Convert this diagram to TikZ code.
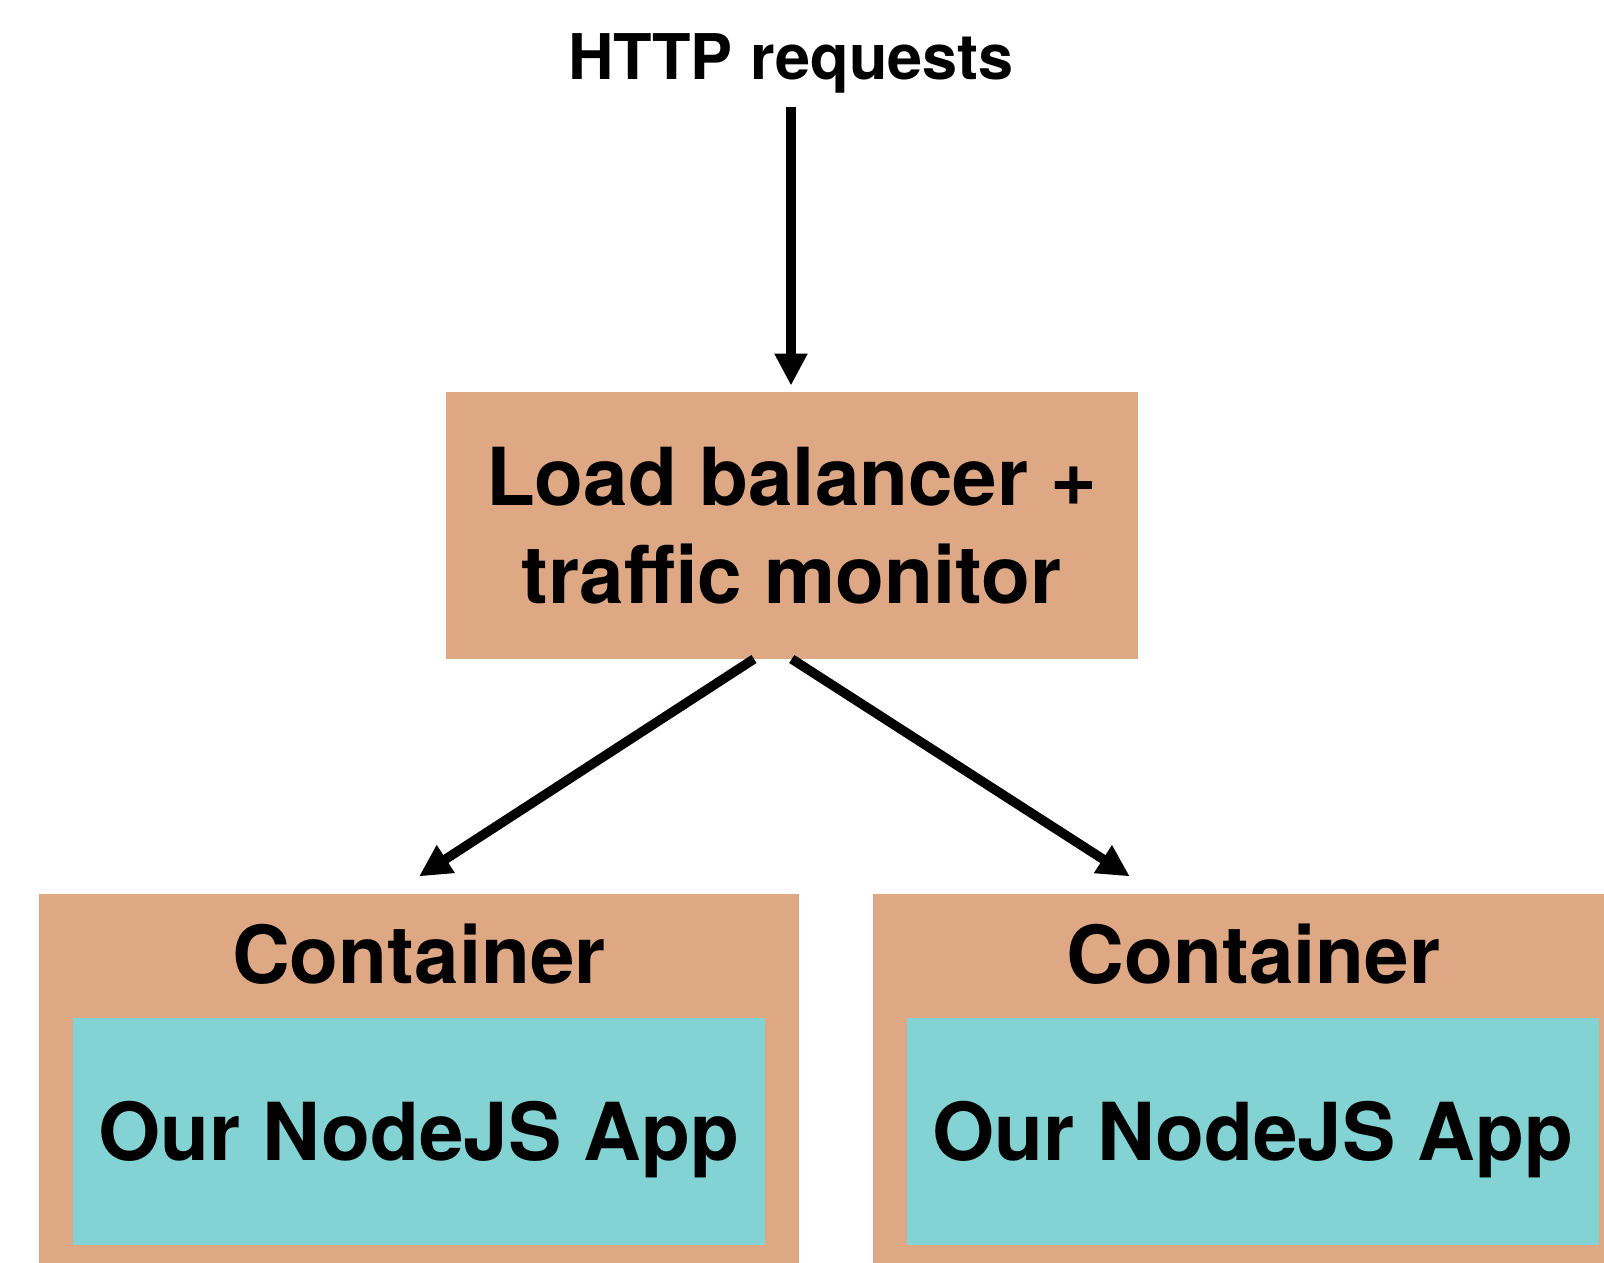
\documentclass[tikz,border=0pt]{standalone}
\usepackage{fontspec}
\setmainfont{TeX Gyre Heros}
\usetikzlibrary{arrows.meta}
\definecolor{boxtan}{RGB}{223,168,132}
\definecolor{appteal}{RGB}{132,211,212}
\tikzset{
  bigtext/.style={font=\fontsize{80}{97.5}\selectfont\bfseries,text depth=0pt,inner sep=0pt}
}

\begin{document}
\begin{tikzpicture}[x=1pt,y=-1pt]

      \useasboundingbox (0,0) rectangle (1604,1263);
      \clip (0,0) rectangle (1604,1263);

      \node (http) at (791,79.8) [anchor=base,inner sep=0pt,font=\fontsize{63}{63}\selectfont\bfseries] {HTTP requests};

      \begin{scope}[every node/.style={fill=boxtan,bigtext}]
        \node (lb) at (791.75,525.3) [minimum width=691.5pt,minimum height=267pt,align=center] {Load balancer +\\traffic monitor};
        \node (c1) at (419,1086)  [minimum width=760pt,minimum height=384pt] {};
        \node (c2) at (1253,1086) [minimum width=760pt,minimum height=384pt] {};
      \end{scope}

      \begin{scope}[every node/.style={bigtext}]
        \node (t1) at (419,954)    {Container};
        \node (t2) at (1253.5,954) {Container};
      \end{scope}

      \begin{scope}[every node/.style={fill=appteal,bigtext,minimum width=692pt,minimum height=227pt}]
        \node (a1) at (418.8,1131.3) {Our NodeJS App};
        \node (a2) at (1253,1131.3)  {Our NodeJS App};
      \end{scope}

      \begin{scope}[every edge/.style={draw,line width=9.5pt,-{Triangle[width=31pt,length=32pt]}}]
        \path (http.south) edge[shorten <=13.5pt,shorten >=6pt] (http.south |- lb.north);
        \path ([xshift=-37.75pt]lb.south) edge ([yshift=17.4pt]c1.north);
        \path (lb.south) edge ([xshift=257pt,yshift=17.4pt]c2.north west);
      \end{scope}

    \end{tikzpicture}
\end{document}
